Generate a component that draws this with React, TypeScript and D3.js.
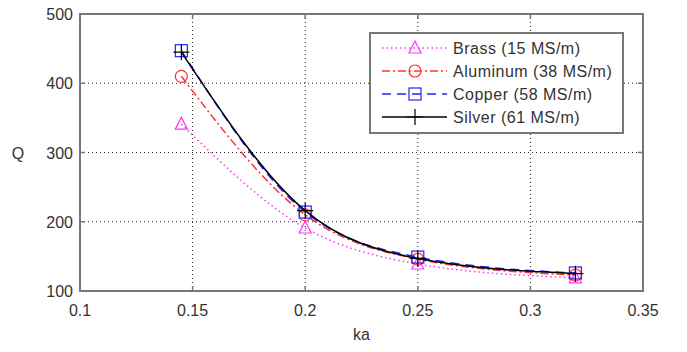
import React from 'react'
import * as d3 from 'd3'

const ka = [0.145, 0.2, 0.25, 0.32]
const brass = [341, 191, 139, 119]
const aluminum = [410, 210, 146, 123]
const copper = [447, 214, 149, 126]
const silver = [445, 216, 147, 125]
const xTicks = [0.1, 0.15, 0.2, 0.25, 0.3, 0.35]
const yTicks = [100, 200, 300, 400, 500]

const series = [
  { name: 'Brass (15 MS/m)', values: brass, color: '#ff33ff', dash: '1.5,3', marker: 'triangle' },
  { name: 'Aluminum (38 MS/m)', values: aluminum, color: '#ff3333', dash: '8,3,2,3', marker: 'circle' },
  { name: 'Copper (58 MS/m)', values: copper, color: '#2222ff', dash: '9,6', marker: 'square' },
  { name: 'Silver (61 MS/m)', values: silver, color: '#000000', dash: null, marker: 'plus' },
]

const W = 687
const H = 352
const margin = { top: 14, right: 44, bottom: 61, left: 80 }

const Marker = ({ type, x, y, color }: { type: string; x: number; y: number; color: string }) => {
  const s = 6
  if (type === 'triangle')
    return <path d={`M${x},${y - s - 1}L${x + s},${y + s - 1}L${x - s},${y + s - 1}Z`} fill="none" stroke={color} strokeWidth={1.2} />
  if (type === 'circle') return <circle cx={x} cy={y} r={s} fill="none" stroke={color} strokeWidth={1.2} />
  if (type === 'square')
    return <rect x={x - s} y={y - s} width={2 * s} height={2 * s} fill="none" stroke={color} strokeWidth={1.2} />
  return <path d={`M${x - 8},${y}H${x + 8}M${x},${y - 8}V${y + 8}`} stroke={color} strokeWidth={1.2} />
}

export default function App() {
  const x = d3.scaleLinear().domain([0.1, 0.35]).range([margin.left, W - margin.right])
  const y = d3.scaleLinear().domain([100, 500]).range([H - margin.bottom, margin.top])
  const [x0, x1] = x.range()
  const [y0, y1] = y.range()
  const line = d3
    .line<number>()
    .x((_, i) => x(ka[i]))
    .y((d) => y(d))
    .curve(d3.curveMonotoneX)
  const font = '"Liberation Sans", Arial, sans-serif'
  const textColor = '#333'
  const axisColor = '#777'

  return (
    <svg width={W} height={H} style={{ position: 'absolute', left: 0, top: 0, background: '#fff' }} fontFamily={font}>
      {/* grid */}
      <g stroke="#222" strokeWidth={1} strokeDasharray="1,3">
        {xTicks.slice(1, -1).map((t) => (
          <line key={'gx' + t} x1={x(t)} x2={x(t)} y1={y1} y2={y0} />
        ))}
        {yTicks.slice(1, -1).map((t) => (
          <line key={'gy' + t} x1={x0} x2={x1} y1={y(t)} y2={y(t)} />
        ))}
      </g>
      {/* ticks */}
      <g stroke={axisColor} strokeWidth={1.5}>
        {xTicks.map((t) => (
          <g key={'tx' + t}>
            <line x1={x(t)} x2={x(t)} y1={y0} y2={y0 - 5} />
            <line x1={x(t)} x2={x(t)} y1={y1} y2={y1 + 5} />
          </g>
        ))}
        {yTicks.map((t) => (
          <g key={'ty' + t}>
            <line x1={x0} x2={x0 + 5} y1={y(t)} y2={y(t)} />
            <line x1={x1} x2={x1 - 5} y1={y(t)} y2={y(t)} />
          </g>
        ))}
      </g>
      <rect x={x0} y={y1} width={x1 - x0} height={y0 - y1} fill="none" stroke={axisColor} strokeWidth={2} />
      {/* tick labels */}
      <g fontSize={16} fill={textColor}>
        {xTicks.map((t) => (
          <text key={'lx' + t} x={x(t)} y={y0 + 25} textAnchor="middle">
            {t}
          </text>
        ))}
        {yTicks.map((t) => (
          <text key={'ly' + t} x={x0 - 7} y={y(t) + 6} textAnchor="end">
            {t}
          </text>
        ))}
      </g>
      <text x={18} y={y(300) + 6} fontSize={16} fill={textColor} textAnchor="middle">
        Q
      </text>
      <text x={(x0 + x1) / 2} y={340} fontSize={16} fill={textColor} textAnchor="middle">
        ka
      </text>
      {/* series */}
      {series.map((s) => (
        <g key={s.name}>
          <path d={line(s.values) || ''} fill="none" stroke={s.color} strokeWidth={1.5} strokeDasharray={s.dash || undefined} />
          {s.values.map((v, i) => (
            <Marker key={i} type={s.marker} x={x(ka[i])} y={y(v)} color={s.color} />
          ))}
        </g>
      ))}
      {/* legend */}
      <g>
        <rect x={370} y={33} width={253} height={100} fill="#fff" stroke={axisColor} strokeWidth={2} />
        {series.map((s, i) => {
          const ly = 48 + i * 23
          return (
            <g key={'leg' + s.name}>
              <line x1={382} x2={447} y1={ly} y2={ly} stroke={s.color} strokeWidth={1.5} strokeDasharray={s.dash || undefined} />
              <Marker type={s.marker} x={415} y={ly} color={s.color} />
              <text x={453} y={ly + 6} fontSize={16} letterSpacing={0.5} fill={textColor}>
                {s.name}
              </text>
            </g>
          )
        })}
      </g>
    </svg>
  )
}
